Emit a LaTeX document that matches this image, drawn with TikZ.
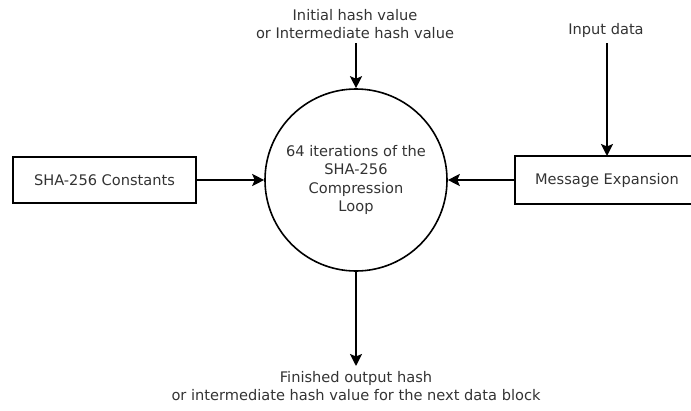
\documentclass[tikz,border=0pt]{standalone}
\usepackage{fontspec}
\setmainfont{DejaVu Sans}
\usetikzlibrary{arrows.meta}
\definecolor{txt}{HTML}{333333}
\begin{document}
\begin{tikzpicture}[x=1pt,y=-1pt,
  lbl/.style={font=\fontsize{14.6}{18}\selectfont, text=txt, align=center, inner sep=0pt},
  boxnode/.style={draw, line width=2pt, minimum width=183pt, minimum height=46pt, inner sep=0pt, font=\fontsize{14.6}{18}\selectfont, text=txt},
  loopnode/.style={draw, circle, line width=1.6pt, minimum size=182pt, inner sep=0pt, align=center, font=\fontsize{14.6}{18.3}\selectfont, text=txt},
  conn/.style={line width=2pt, -{Stealth[length=12pt,width=12pt,inset=2.5pt]}}]
\useasboundingbox (0,0) rectangle (691,410);
\begin{scope}
\clip (0,0) rectangle (691,410);
\node[loopnode] (loop) at (356,180) {64 iterations of the\\SHA-256\\Compression\\Loop};
\node[boxnode] (const) at (104.5,180) {SHA-256 Constants};
\node[boxnode, draw=none, minimum width=182pt] (exp) at (607,180) {Message Expansion};
\draw[line width=2pt] ([xshift=30pt]exp.north east) -- (exp.north west) -- (exp.south west) -- ([xshift=30pt]exp.south east);
\node[lbl] (init) at (355,24) {Initial hash value\\or Intermediate hash value};
\node[lbl] (input) at (606,30) {Input data};
\node[lbl, anchor=north] (out) at (356,371) {Finished output hash\\or intermediate hash value for the next data block};
\coordinate (initend) at (356,43);
\coordinate (inputend) at (607,43);
\coordinate (outend) at (356,366);
\draw[conn] (initend) -- (loop.north);
\draw[conn] (inputend) -- (exp.north -| inputend);
\draw[conn] (const.east) -- (loop.west);
\draw[conn] (exp.west) -- (loop.east);
\draw[conn] (loop.south) -- (outend);
\end{scope}
\end{tikzpicture}
\end{document}
